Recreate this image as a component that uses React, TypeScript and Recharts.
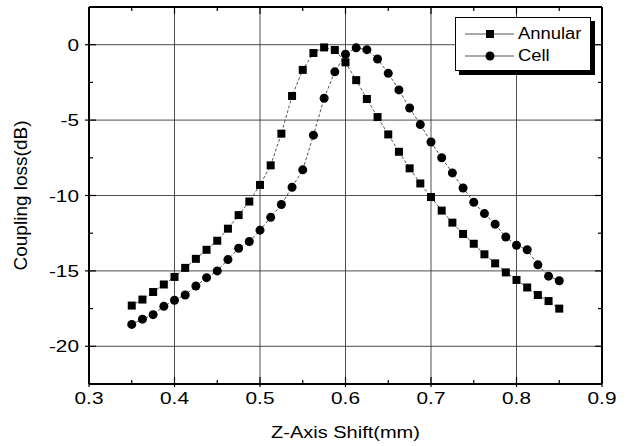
import { CartesianGrid, Legend, Line, LineChart, XAxis, YAxis } from "recharts";

// Z-axis shift (mm), one value per measured point
const shiftMm = [
  0.35, 0.3625, 0.375, 0.3875, 0.4, 0.4125, 0.425, 0.4375, 0.45, 0.4625, 0.475, 0.4875,
  0.5, 0.5125, 0.525, 0.5375, 0.55, 0.5625, 0.575, 0.5875, 0.6, 0.6125, 0.625, 0.6375,
  0.65, 0.6625, 0.675, 0.6875, 0.7, 0.7125, 0.725, 0.7375, 0.75, 0.7625, 0.775, 0.7875,
  0.8, 0.8125, 0.825, 0.8375, 0.85,
];

const annularLoss = [
  -17.3, -16.9, -16.4, -15.9, -15.4, -14.8, -14.2, -13.6, -13.0, -12.2, -11.3, -10.4,
  -9.3, -8.0, -5.9, -3.4, -1.67, -0.55, -0.18, -0.35, -1.17, -2.35, -3.6, -4.8,
  -5.95, -7.1, -8.2, -9.2, -10.1, -11.0, -11.8, -12.55, -13.2, -13.9, -14.5, -15.1,
  -15.6, -16.1, -16.6, -17.0, -17.5,
];

const cellLoss = [
  -18.55, -18.2, -17.9, -17.35, -16.95, -16.6, -16.0, -15.45, -15.0, -14.25, -13.5, -13.05,
  -12.3, -11.45, -10.6, -9.45, -8.3, -6.0, -3.55, -1.8, -0.63, -0.21, -0.33, -0.95,
  -1.9, -3.0, -4.2, -5.3, -6.45, -7.5, -8.5, -9.5, -10.45, -11.2, -11.9, -12.75,
  -13.3, -13.6, -14.6, -15.35, -15.65,
];

const xMajorTicks = [0.3, 0.4, 0.5, 0.6, 0.7, 0.8, 0.9];
const xAllTicks = [0.3, 0.35, 0.4, 0.45, 0.5, 0.55, 0.6, 0.65, 0.7, 0.75, 0.8, 0.85, 0.9];
const yMajorTicks = [-20, -15, -10, -5, 0];
const yAllTicks = [-20, -17.5, -15, -12.5, -10, -7.5, -5, -2.5, 0];

const data = shiftMm.map((x, i) => ({ x, annular: annularLoss[i], cell: cellLoss[i] }));

const FONT = "'Liberation Sans', Arial, sans-serif";
const isMajor = (v: number, list: number[]) => list.some((m) => Math.abs(m - v) < 1e-6);

function BottomTick({ x, y, payload }: any) {
  const major = isMajor(payload.value, xMajorTicks);
  return (
    <g>
      <line x1={x} x2={x} y1={y + (major ? 3 : 0)} y2={y - (major ? 7 : 4)} stroke="#000" strokeWidth={1.2} />
      {major && (
        <text transform={`translate(${x},${y + 20}) scale(1.3,1)`} textAnchor="middle" fontSize={16} fontFamily={FONT} fill="#000">
          {payload.value.toFixed(1)}
        </text>
      )}
    </g>
  );
}

function LeftTick({ x, y, payload }: any) {
  const major = isMajor(payload.value, yMajorTicks);
  return (
    <g>
      <line x1={x - (major ? 4 : 0)} x2={x + (major ? 7 : 4)} y1={y} y2={y} stroke="#000" strokeWidth={1.2} />
      {major && (
        <text transform={`translate(${x - 10},${y + 6}) scale(1.3,1)`} textAnchor="end" fontSize={16} fontFamily={FONT} fill="#000">
          {payload.value}
        </text>
      )}
    </g>
  );
}

function TopTick({ x, y, payload }: any) {
  const major = isMajor(payload.value, xMajorTicks);
  return <line x1={x} x2={x} y1={y} y2={y + (major ? 7 : 4)} stroke="#000" strokeWidth={1.2} />;
}

function RightTick({ x, y, payload }: any) {
  const major = isMajor(payload.value, yMajorTicks);
  return <line x1={x} x2={x - (major ? 7 : 4)} y1={y} y2={y} stroke="#000" strokeWidth={1.2} />;
}

function SquareDot({ cx, cy, index }: any) {
  return <rect key={`sq-${index}`} x={cx - 4} y={cy - 4} width={8} height={8} fill="#000" />;
}

function CircleDot({ cx, cy, index }: any) {
  return <circle key={`ci-${index}`} cx={cx} cy={cy} r={4.5} fill="#000" />;
}

function LegendBox({ payload }: any) {
  const items = (payload || []).filter((item: any) => item.type !== "none");
  return (
    <div
      style={{
        border: "1px solid #000",
        background: "#fff",
        boxShadow: "4px 4px 0 #000",
        width: 136,
        height: 54,
        boxSizing: "border-box",
        paddingTop: 5,
      }}
    >
      {items.map((item: any) => (
        <div key={item.value} style={{ display: "flex", alignItems: "center", height: 22 }}>
          <svg width={62} height={22}>
            <line x1={9} x2={58} y1={11} y2={11} stroke="#555" strokeWidth={1} />
            {item.type === "square" ? (
              <rect x={30} y={7} width={8} height={8} fill="#000" />
            ) : (
              <circle cx={34} cy={11} r={4.5} fill="#000" />
            )}
          </svg>
          <span style={{ fontFamily: FONT, fontSize: 16, display: "inline-block", transform: "scale(1.15,1)", transformOrigin: "left center" }}>
            {item.value}
          </span>
        </div>
      ))}
    </div>
  );
}

export default function App() {
  return (
    <div style={{ position: "absolute", left: 0, top: 0, background: "#fff" }}>
      <LineChart width={630} height={446} data={data} margin={{ top: 6, right: 27, left: 0, bottom: 0 }}>
        <CartesianGrid
          stroke="#3a3a3a"
          strokeWidth={0.9}
          verticalValues={[0.4, 0.5, 0.6, 0.7, 0.8]}
          horizontalValues={[-20, -15, -10, -5, 0]}
        />
        <XAxis
          dataKey="x"
          type="number"
          domain={[0.3, 0.9]}
          allowDataOverflow
          ticks={xAllTicks}
          interval={0}
          height={62}
          tickSize={0}
          tickMargin={0}
          tickLine={false}
          axisLine={{ stroke: "#000", strokeWidth: 2 }}
          tick={<BottomTick />}
          label={{
            content: ({ viewBox }: any) => (
              <text
                transform={`translate(${viewBox.x + viewBox.width / 2},${viewBox.y + 54}) scale(1.25,1)`}
                textAnchor="middle"
                fontSize={16}
                fontFamily={FONT}
                fill="#000"
              >
                Z-Axis Shift(mm)
              </text>
            ),
          }}
        />
        <XAxis
          xAxisId="top"
          orientation="top"
          type="number"
          dataKey="x"
          domain={[0.3, 0.9]}
          allowDataOverflow
          ticks={xAllTicks}
          interval={0}
          height={1}
          tickSize={0}
          tickMargin={0}
          tickLine={false}
          axisLine={{ stroke: "#000", strokeWidth: 2 }}
          tick={<TopTick />}
        />
        <YAxis
          type="number"
          domain={[-22.5, 2.5]}
          allowDataOverflow
          ticks={yAllTicks}
          interval={0}
          width={89}
          tickSize={0}
          tickMargin={0}
          tickLine={false}
          axisLine={{ stroke: "#000", strokeWidth: 2 }}
          tick={<LeftTick />}
          label={{
            content: ({ viewBox }: any) => (
              <text
                transform={`translate(27,${viewBox.y + viewBox.height / 2}) rotate(-90)`}
                textAnchor="middle"
                fontSize={19}
                fontFamily={FONT}
                fill="#000"
              >
                Coupling loss(dB)
              </text>
            ),
          }}
        />
        <YAxis
          yAxisId="right"
          orientation="right"
          type="number"
          domain={[-22.5, 2.5]}
          allowDataOverflow
          ticks={yAllTicks}
          interval={0}
          width={1}
          tickSize={0}
          tickMargin={0}
          tickLine={false}
          axisLine={{ stroke: "#000", strokeWidth: 2 }}
          tick={<RightTick />}
        />
        <Legend
          layout="horizontal"
          verticalAlign="middle"
          align="center"
          wrapperStyle={{ position: "absolute", left: 455, top: 17, width: 140 }}
          content={<LegendBox />}
        />
        <Line
          name="Annular"
          dataKey="annular"
          legendType="square"
          stroke="#555"
          strokeWidth={1}
          strokeDasharray="3 2"
          dot={SquareDot}
          activeDot={false}
          isAnimationActive={false}
        />
        <Line
          name="Cell"
          dataKey="cell"
          legendType="circle"
          stroke="#555"
          strokeWidth={1}
          strokeDasharray="3 2"
          dot={CircleDot}
          activeDot={false}
          isAnimationActive={false}
        />
        {/* invisible series so the top and right frame axes get drawn */}
        <Line
          xAxisId="top"
          yAxisId="right"
          dataKey="annular"
          legendType="none"
          stroke="none"
          dot={false}
          activeDot={false}
          isAnimationActive={false}
        />
      </LineChart>
    </div>
  );
}
